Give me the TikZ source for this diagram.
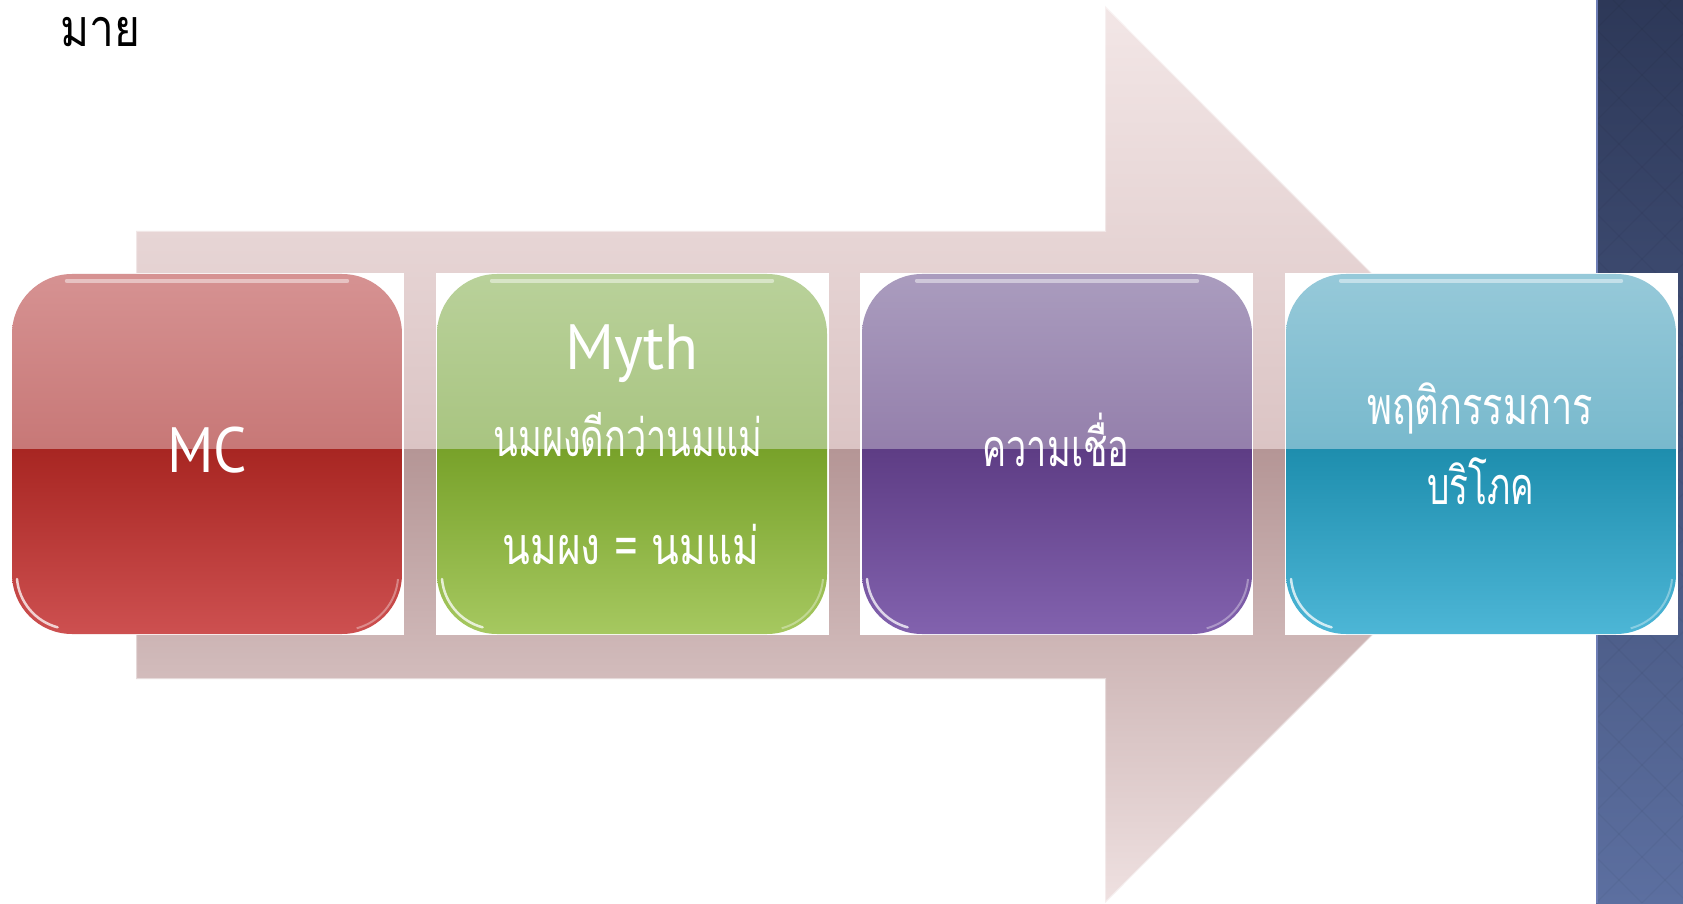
\documentclass[tikz,border=0pt]{standalone}
\usepackage{fontspec}
\usepackage{graphicx}
\newfontfamily\thai[Script=Thai]{Loma}
\newfontfamily\latf{PT Sans}
\definecolor{panTop}{HTML}{2D3858}
\definecolor{panBot}{HTML}{5C6FA0}
\definecolor{panEdge}{HTML}{6D7DB5}
\definecolor{arTop}{HTML}{F3E7E7}
\definecolor{arMid}{HTML}{DBC4C4}
\definecolor{arDark}{HTML}{B59696}
\definecolor{arBot}{HTML}{EFE1E1}
\definecolor{rA}{HTML}{D69292}\definecolor{rB}{HTML}{B85C5A}\definecolor{rC}{HTML}{A82622}\definecolor{rD}{HTML}{CD5050}
\definecolor{gA}{HTML}{B9D19A}\definecolor{gB}{HTML}{97B766}\definecolor{gC}{HTML}{78A22A}\definecolor{gD}{HTML}{A6C860}
\definecolor{pA}{HTML}{AA9CBE}\definecolor{pB}{HTML}{7D6198}\definecolor{pC}{HTML}{5E3D85}\definecolor{pD}{HTML}{8262AE}
\definecolor{tA}{HTML}{96C9D9}\definecolor{tB}{HTML}{58A8C0}\definecolor{tC}{HTML}{1E8EAE}\definecolor{tD}{HTML}{4DB6D6}
\tikzset{
  gbox/.style n args={4}{rectangle, rounded corners=60pt, minimum width=390pt, minimum height=360pt, inner sep=0pt,
    path picture={
      \shade[sharp corners, top color=#1, bottom color=#2] (path picture bounding box.north west) rectangle ([yshift=4pt]path picture bounding box.east);
      \shade[sharp corners, top color=#3, bottom color=#4] ([yshift=4pt]path picture bounding box.west) rectangle (path picture bounding box.south east);
    }},
  gloss/.style={white, opacity=0.45, line width=4pt, line cap=round},
  sheen/.style={white, opacity=0.75, line width=2.5pt, line cap=round},
  btext/.style={anchor=base, inner sep=0pt, text=white},
  thaitext/.style={btext, font=\thai\fontsize{52}{60}\selectfont},
  lattext/.style={btext, font=\latf\fontsize{64}{70}\selectfont},
  whitebg/.style={fill=white}
}
\newcommand{\arrowpath}{(136,672) -- (1105,672) -- (1105,897) -- (1553,448.5) -- (1105,0) -- (1105,224) -- (136,224) -- cycle}
\begin{document}
\begin{tikzpicture}[x=1pt,y=1pt]
\useasboundingbox (0,0) rectangle (1683,903);
\fill[white] (0,0) rectangle (1683,903);
% right panel
\shade[top color=panTop, bottom color=panBot] (1596,0) rectangle (1683,903);
\begin{scope}
  \clip (1596,0) rectangle (1683,903);
  \foreach \k in {-21,...,22} {
    \draw[black, opacity=0.035, line width=1.2pt] (1596+\k*46,0) -- ++(903,903);
    \draw[black, opacity=0.035, line width=1.2pt] (1596+\k*46,0) -- ++(-903,903);
  }
\end{scope}
\draw[panEdge, line width=1.5pt] (1596.75,0) -- (1596.75,903);
% big arrow
\begin{scope}
  \clip \arrowpath;
  \shade[top color=arTop, bottom color=arMid] (0,453) rectangle (1683,903);
  \shade[top color=arDark, bottom color=arBot] (0,0) rectangle (1683,453);
\end{scope}
\draw[white, opacity=0.45, line width=2pt] \arrowpath;
% white backgrounds of the boxes
\fill[whitebg] (10,268) rectangle (404,630);
\fill[whitebg] (436,268) rectangle (829,630);
\fill[whitebg] (860,268) rectangle (1253,630);
\fill[whitebg] (1285,268) rectangle (1678,630);
% boxes
\node[gbox={rA}{rB}{rC}{rD}] (b1) at (207,449) {};
\node[gbox={gA}{gB}{gC}{gD}] (b2) at (632,449) {};
\node[gbox={pA}{pB}{pC}{pD}] (b3) at (1057,449) {};
\node[gbox={tA}{tB}{tC}{tD}] (b4) at (1481,449) {};
\foreach \b in {b1,b2,b3,b4} {
  \draw[gloss] ([shift={(55,-7)}]\b.north west) -- ([shift={(-55,-7)}]\b.north east);
  \draw[sheen] ([shift={(60,60)}]\b.south west) ++(185:55) arc[start angle=185, end angle=255, radius=55];
  \draw[white, opacity=0.35, line width=2pt] ([shift={(-60,60)}]\b.south east) ++(355:56) arc[start angle=355, end angle=285, radius=56];
}
% texts
\node[lattext] (mc) at (207,430) {\resizebox{80pt}{\height}{MC}};
\node[lattext] (myth) at (632,533) {\resizebox{133pt}{\height}{Myth}};
\node[thaitext] (m1) at (628,446) {\resizebox{269pt}{\height}{นมผงดีกว่านมแม่}};
\node[thaitext] (m2) at (631,338) {\resizebox{257pt}{\height}{นมผง = นมแม่}};
\node[thaitext] (belief) at (1056,436) {\resizebox{147pt}{\height}{ความเชื่อ}};
\node[thaitext] (beh1) at (1480,478) {\resizebox{226pt}{\height}{พฤติกรรมการ}};
\node[thaitext] (beh2) at (1481,398) {\resizebox{107pt}{\height}{บริโภค}};
% clipped title
\begin{scope}
  \clip (0,800) rectangle (137,903);
  \node[anchor=base west, inner sep=0pt, font=\thai\fontsize{52}{60}\selectfont] (title) at (60,856) {\scalebox{0.85}[1]{มายาคติ}};
\end{scope}
\end{tikzpicture}
\end{document}
